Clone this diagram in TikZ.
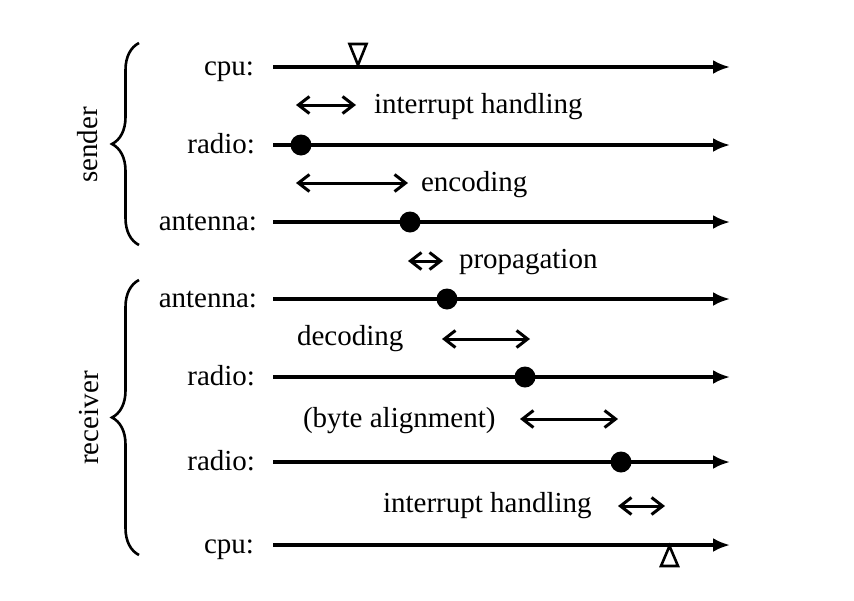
\documentclass[tikz,border=0pt]{standalone}
\usepackage{fontspec}
\setmainfont{Liberation Serif}
\usetikzlibrary{arrows.meta,decorations.pathreplacing}
\begin{document}
\begin{tikzpicture}[x=1pt,y=-1pt,
  every node/.style={inner sep=0pt,outer sep=0pt,font=\fontsize{29}{34}\selectfont},
  timeline/.style={line width=3.3pt,-{Latex[length=17pt,width=14pt]}},
  span/.style={line width=3pt,{Straight Barb[length=11pt,width=17pt]}-{Straight Barb[length=11pt,width=17pt]}},
  event/.style={circle,fill=black,minimum size=21pt},
  trimark/.style={draw=black,line width=2.6pt,fill=white,line join=miter},
  lbl/.style={anchor=base east},
  txt/.style={anchor=base west},
  bracestyle/.style={decorate,decoration={brace,amplitude=27pt},line width=2.6pt}
]
\useasboundingbox (0,0) rectangle (854,600);
% timelines
\foreach \n/\y in {a/67,b/145,c/222,d/299,e/377,f/462,g/545}{
  \coordinate (s\n) at (273,\y);
  \coordinate (t\n) at (730,\y);
  \draw[timeline] (s\n) -- (t\n);
}
% labels
\node[lbl] (la) at (254,75) {cpu:};
\node[lbl] (lb) at (255,153) {radio:};
\node[lbl] (lc) at (257,230) {antenna:};
\node[lbl] (ld) at (257,307) {antenna:};
\node[lbl] (le) at (255,385) {radio:};
\node[lbl] (lf) at (255,470) {radio:};
\node[lbl] (lg) at (254,553) {cpu:};
% braces
\coordinate (sb1) at (139,245); \coordinate (sb2) at (139,43);
\draw[bracestyle] (sb1) -- (sb2);
\coordinate (rb1) at (139,555); \coordinate (rb2) at (139,280);
\draw[bracestyle] (rb1) -- (rb2);
\node[rotate=90,anchor=base] (sender) at (97,145) {sender};
\node[rotate=90,anchor=base] (receiver) at (98,418) {receiver};
% events
\node[event] (db) at (301,145) {};
\node[event] (dc) at (410,222) {};
\node[event] (dd) at (447,299) {};
\node[event] (de) at (525,377) {};
\node[event] (df) at (621,462) {};
% triangles
\draw[trimark] (349.5,44) -- (366.5,44) -- (358,65) -- cycle;
\draw[trimark] (661,566) -- (678,566) -- (669.5,546) -- cycle;
% spans
\coordinate (p1a) at (296,105); \coordinate (p1b) at (356,105);
\draw[span] (p1a) -- (p1b);
\node[txt] (n1) at (374,113) {interrupt handling};
\coordinate (p2a) at (296,183); \coordinate (p2b) at (408,183);
\draw[span] (p2a) -- (p2b);
\node[txt] (n2) at (421,191) {encoding};
\coordinate (p3a) at (408,261); \coordinate (p3b) at (443,261);
\draw[span] (p3a) -- (p3b);
\node[txt] (n3) at (459,268) {propagation};
\coordinate (p4a) at (442,339); \coordinate (p4b) at (530,339);
\draw[span] (p4a) -- (p4b);
\node[txt] (n4) at (297,345) {decoding};
\coordinate (p5a) at (520,419); \coordinate (p5b) at (618,419);
\draw[span] (p5a) -- (p5b);
\node[txt] (n5) at (303,427) {(byte alignment)};
\coordinate (p6a) at (618,506); \coordinate (p6b) at (665,506);
\draw[span] (p6a) -- (p6b);
\node[txt] (n6) at (383,512) {interrupt handling};
\end{tikzpicture}
\end{document}
